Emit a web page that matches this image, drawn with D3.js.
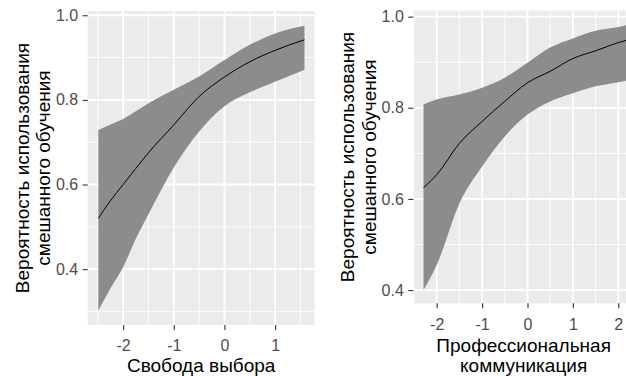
<!DOCTYPE html>
<html>
<head>
<meta charset="utf-8">
<script src="https://cdn.jsdelivr.net/npm/d3@7"></script>
<style>
  body { margin: 0; background: #fff; }
  svg { display: block; font-family: "Liberation Sans", Arial, sans-serif; }
</style>
</head>
<body>
<svg id="chart" width="626" height="376"></svg>
<script>
// left panel: Свобода выбора
const xLeft = [-2.49, -2.25, -2, -1.75, -1.5, -1, -0.5, 0, 0.5, 1, 1.58]
const fitLeft = [0.520, 0.562, 0.600, 0.638, 0.675, 0.741, 0.808, 0.854, 0.890, 0.917, 0.942]
const upperLeft = [0.729, 0.742, 0.755, 0.773, 0.792, 0.824, 0.855, 0.894, 0.930, 0.957, 0.975]
const lowerLeft = [0.302, 0.355, 0.405, 0.472, 0.530, 0.640, 0.725, 0.785, 0.818, 0.843, 0.871]

// right panel: Профессиональная коммуникация
const xRight = [-2.29, -2, -1.5, -1, -0.5, 0, 0.5, 1, 1.5, 2, 2.25]
const fitRight = [0.625, 0.653, 0.722, 0.770, 0.814, 0.855, 0.880, 0.908, 0.925, 0.943, 0.950]
const upperRight = [0.807, 0.818, 0.829, 0.844, 0.866, 0.899, 0.932, 0.952, 0.969, 0.977, 0.983]
const lowerRight = [0.400, 0.455, 0.590, 0.671, 0.737, 0.785, 0.814, 0.832, 0.847, 0.856, 0.861]

const xTicksLeft = [-2, -1, 0, 1]
const xTicksRight = [-2, -1, 0, 1, 2]
const yTicksLeft = [0.4, 0.6, 0.8, 1.0]
const yTicksRight = [0.4, 0.6, 0.8, 1.0]

const yTitle = ['Вероятность использования', 'смешанного обучения']

const svg = d3.select('#chart')

function panel(opts) {
  const { xs, fit, upper, lower, xDomain, yDomain, rect, xTicks, yTicks, xTitle } = opts
  const x = d3.scaleLinear().domain(xDomain).range([rect.left, rect.right])
  const y = d3.scaleLinear().domain(yDomain).range([rect.bottom, rect.top])
  const g = svg.append('g')

  g.append('rect')
    .attr('x', rect.left).attr('y', rect.top)
    .attr('width', rect.right - rect.left).attr('height', rect.bottom - rect.top)
    .attr('fill', '#ebebeb')

  // minor grid
  const xMinor = d3.range(Math.ceil(xDomain[0] - 0.5), xDomain[1], 1).map(d => d + 0.5)
    .filter(d => d >= xDomain[0] && d <= xDomain[1])
  const yMinor = d3.range(0.3, 1.0, 0.2).filter(d => d >= yDomain[0] && d <= yDomain[1])
  g.selectAll('.xmin').data(xMinor).join('line')
    .attr('x1', d => x(d)).attr('x2', d => x(d))
    .attr('y1', rect.top).attr('y2', rect.bottom)
    .attr('stroke', '#fff').attr('stroke-width', 0.9)
  g.selectAll('.ymin').data(yMinor).join('line')
    .attr('y1', d => y(d)).attr('y2', d => y(d))
    .attr('x1', rect.left).attr('x2', rect.right)
    .attr('stroke', '#fff').attr('stroke-width', 0.9)

  // major grid
  g.append('g').selectAll('line').data(xTicks).join('line')
    .attr('x1', d => x(d)).attr('x2', d => x(d))
    .attr('y1', rect.top).attr('y2', rect.bottom)
    .attr('stroke', '#fff').attr('stroke-width', 1.8)
  g.append('g').selectAll('line').data(yTicks).join('line')
    .attr('y1', d => y(d)).attr('y2', d => y(d))
    .attr('x1', rect.left).attr('x2', rect.right)
    .attr('stroke', '#fff').attr('stroke-width', 1.8)

  const rows = xs.map((d, i) => ({ x: d, fit: fit[i], lo: lower[i], hi: upper[i] }))

  const area = d3.area()
    .x(d => x(d.x))
    .y0(d => y(d.lo))
    .y1(d => y(d.hi))
    .curve(d3.curveMonotoneX)
  g.append('path').datum(rows)
    .attr('d', area)
    .attr('fill', '#8c8c8c')

  const line = d3.line()
    .x(d => x(d.x))
    .y(d => y(d.fit))
    .curve(d3.curveMonotoneX)
  g.append('path').datum(rows)
    .attr('d', line)
    .attr('fill', 'none')
    .attr('stroke', '#000')
    .attr('stroke-width', 1)

  // axes
  const xAxis = g.append('g')
    .attr('transform', `translate(0,${rect.bottom})`)
    .call(d3.axisBottom(x).tickValues(xTicks).tickSize(5).tickPadding(10).tickFormat(d3.format('d')))
  const yAxis = g.append('g')
    .attr('transform', `translate(${rect.left},0)`)
    .call(d3.axisLeft(y).tickValues(yTicks).tickSize(5).tickPadding(4.5).tickFormat(d3.format('.1f')))
  for (const ax of [xAxis, yAxis]) {
    ax.select('.domain').remove()
    ax.selectAll('.tick line').attr('stroke', '#333').attr('stroke-width', 1.1)
    ax.selectAll('.tick text').attr('fill', '#4d4d4d').style('font-size', '16px')
      .style('font-family', '"Liberation Sans", Arial, sans-serif')
  }
  xAxis.selectAll('.tick text').text(d => d < 0 ? '-' + Math.abs(d) : d)

  // titles
  const cx = (rect.left + rect.right) / 2
  xTitle.forEach((t, i) => {
    g.append('text')
      .attr('x', cx + (opts.xTitleDx || 0)).attr('y', opts.xTitleY + i * 20.5)
      .attr('text-anchor', 'middle')
      .style('font-size', '19px')
      .attr('fill', '#000')
      .text(t)
  })
  const cy = (rect.top + rect.bottom) / 2
  yTitle.forEach((t, i) => {
    g.append('text')
      .attr('transform', `translate(${opts.yTitleX + i * 21.7},${cy}) rotate(-90)`)
      .attr('text-anchor', 'middle')
      .style('font-size', '19px')
      .attr('fill', '#000')
      .text(t)
  })
}

panel({
  xs: xLeft, fit: fitLeft, upper: upperLeft, lower: lowerLeft,
  xDomain: [-2.70, 1.78], yDomain: [0.268, 1.010],
  rect: { left: 87.7, right: 314.6, top: 11, bottom: 325 },
  xTicks: xTicksLeft, yTicks: yTicksLeft,
  xTitle: ['Свобода выбора'], xTitleY: 371.5, yTitleX: 28.5
})

panel({
  xs: xRight, fit: fitRight, upper: upperRight, lower: lowerRight,
  xDomain: [-2.515, 2.478], yDomain: [0.371, 1.013],
  rect: { left: 413.3, right: 640, top: 10.7, bottom: 303.3 },
  xTicks: xTicksRight, yTicks: yTicksRight,
  xTitle: ['Профессиональная', 'коммуникация'], xTitleY: 351.5, xTitleDx: -3, yTitleX: 354
})
</script>
</body>
</html>
